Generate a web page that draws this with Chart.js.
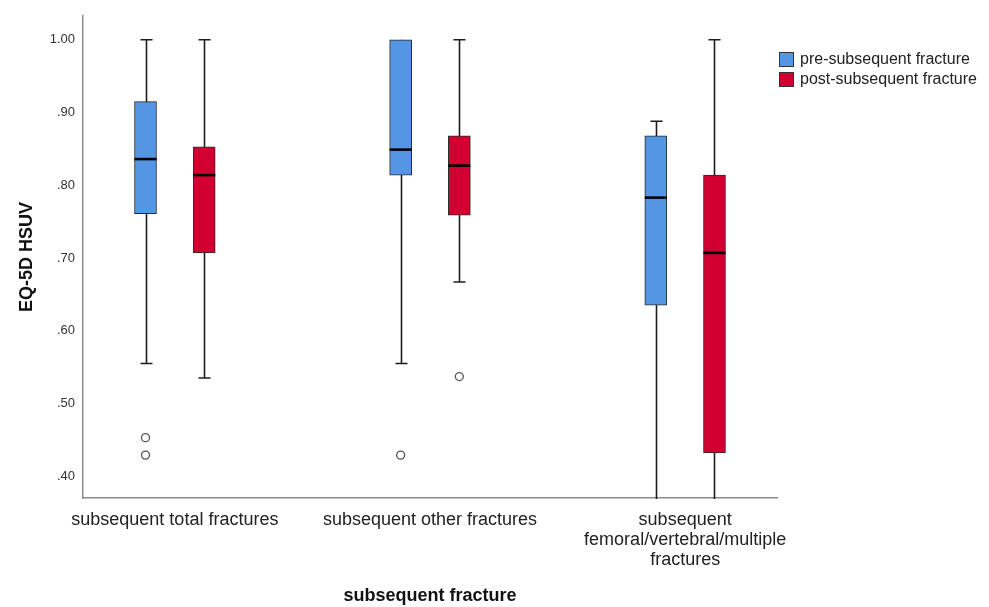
<!DOCTYPE html>
<html>
<head>
<meta charset="utf-8">
<script src="https://cdn.jsdelivr.net/npm/chart.js@4.4.1/dist/chart.umd.min.js"></script>
<style>
  html, body { margin: 0; padding: 0; background: #fff; }
  #wrap { width: 989px; height: 607px; }
</style>
</head>
<body>
<div id="wrap"><canvas id="boxChart" width="989" height="607"></canvas></div>
<script>
// categorías del eje X (la tercera va en tres líneas)
const categories = [
    'subsequent total fractures',
    'subsequent other fractures',
    ['subsequent', 'femoral/vertebral/multiple', 'fractures']
];
const seriesNames = ['pre-subsequent fracture', 'post-subsequent fracture'];
const yTicks = [0.40, 0.50, 0.60, 0.70, 0.80, 0.90, 1.00];

// estadísticos (pre)
const preMin = [0.555, 0.555, 0.30];
const preQ1 = [0.761, 0.814, 0.635];
const preMedian = [0.836, 0.849, 0.783];
const preQ3 = [0.915, 1.00, 0.868];
const preMax = [1.00, 1.00, 0.888];
const preOutliers = [[0.453, 0.429], [0.429], []];

// estadísticos (post)
const postMin = [0.535, 0.667, 0.30];
const postQ1 = [0.707, 0.759, 0.432];
const postMedian = [0.814, 0.827, 0.707];
const postQ3 = [0.853, 0.868, 0.814];
const postMax = [1.00, 1.00, 1.00];
const postOutliers = [[], [0.537], []];

const FONT = "'Liberation Sans', Arial, sans-serif";
const boxOffset = 0.115;   // desplazamiento de cada caja respecto al centro del grupo
const blue = '#5596e4';
const red = '#d20030';

function boxData(q1, q3, shift) {
    return q1.map((v, i) => ({ x: i + 1 + shift, y: [v, q3[i]] }));
}
function outlierData(list, shift) {
    const pts = [];
    list.forEach((vals, i) => vals.forEach(v => pts.push({ x: i + 1 + shift, y: v })));
    return pts;
}

// Plugin: bigotes debajo de las cajas, medianas encima, leyenda a la derecha
const boxPlotPlugin = {
    id: 'boxPlot',
    beforeDatasetsDraw(chart) {
        const { ctx, chartArea, scales: { x, y } } = chart;
        ctx.save();
        ctx.beginPath();
        ctx.rect(chartArea.left, chartArea.top, chartArea.width, chartArea.height + 1);
        ctx.clip();
        ctx.strokeStyle = '#1c1c1c';
        ctx.lineWidth = 1.6;
        chart.data.datasets.forEach(ds => {
            if (!ds.whiskerLow) return;
            ds.data.forEach((d, i) => {
                const cx = Math.round(x.getPixelForValue(d.x)) + 0.5;
                const lo = y.getPixelForValue(ds.whiskerLow[i]);
                const hi = y.getPixelForValue(ds.whiskerHigh[i]);
                ctx.beginPath();
                ctx.moveTo(cx, lo);
                ctx.lineTo(cx, hi);
                ctx.moveTo(cx - 6, lo);
                ctx.lineTo(cx + 6, lo);
                if (ds.whiskerHigh[i] > d.y[1]) {
                    ctx.moveTo(cx - 6, hi);
                    ctx.lineTo(cx + 6, hi);
                }
                ctx.stroke();
            });
        });
        ctx.restore();
    },
    afterDatasetsDraw(chart) {
        const { ctx, scales: { x, y } } = chart;
        ctx.save();
        ctx.strokeStyle = '#000';
        ctx.lineWidth = 2.6;
        chart.data.datasets.forEach(ds => {
            if (!ds.medians) return;
            ds.data.forEach((d, i) => {
                const cx = x.getPixelForValue(d.x);
                const my = y.getPixelForValue(ds.medians[i]);
                ctx.beginPath();
                ctx.moveTo(cx - 11, my);
                ctx.lineTo(cx + 11, my);
                ctx.stroke();
            });
        });
        ctx.restore();
    },
    afterDraw(chart) {
        const { ctx, chartArea } = chart;
        ctx.save();
        ctx.font = Chart.helpers.toFont({ family: FONT, size: 16 }).string;
        ctx.textBaseline = 'middle';
        ctx.textAlign = 'left';
        const bx = chartArea.right + 2;
        chart.data.datasets.filter(ds => ds.medians).forEach((ds, i) => {
            const by = 52 + i * 20;
            ctx.fillStyle = ds.backgroundColor;
            ctx.fillRect(bx, by, 15, 15);
            ctx.strokeStyle = '#333';
            ctx.lineWidth = 1;
            ctx.strokeRect(bx + 0.5, by + 0.5, 14, 14);
            ctx.fillStyle = '#222';
            ctx.fillText(ds.label, bx + 21, by + 8);
        });
        ctx.restore();
    }
};

const ctx = document.getElementById('boxChart').getContext('2d');
new Chart(ctx, {
    type: 'bar',
    data: {
        datasets: [
            {
                label: seriesNames[0],
                data: boxData(preQ1, preQ3, -boxOffset),
                medians: preMedian,
                whiskerLow: preMin,
                whiskerHigh: preMax,
                backgroundColor: blue,
                borderColor: '#2b2b2b',
                borderWidth: 1,
                borderSkipped: false,
                barThickness: 22,
                grouped: false,
                order: 2
            },
            {
                label: seriesNames[1],
                data: boxData(postQ1, postQ3, boxOffset),
                medians: postMedian,
                whiskerLow: postMin,
                whiskerHigh: postMax,
                backgroundColor: red,
                borderColor: '#2b2b2b',
                borderWidth: 1,
                borderSkipped: false,
                barThickness: 22,
                grouped: false,
                order: 2
            },
            {
                type: 'scatter',
                label: 'outliers',
                data: outlierData(preOutliers, -boxOffset).concat(outlierData(postOutliers, boxOffset)),
                pointStyle: 'circle',
                pointRadius: 4,
                backgroundColor: '#fff',
                borderColor: '#555',
                borderWidth: 1.3,
                order: 1
            }
        ]
    },
    options: {
        responsive: false,
        animation: false,
        layout: { padding: { top: 13, right: 212, bottom: 0, left: 0 } },
        plugins: {
            legend: { display: false },
            tooltip: { enabled: false }
        },
        scales: {
            x: {
                type: 'linear',
                offset: false,
                min: 0.64,
                max: 3.36,
                grid: { display: false, drawTicks: false },
                border: { display: true, color: '#8a8a8a', width: 1.5 },
                afterBuildTicks: scale => { scale.ticks = categories.map((c, i) => ({ value: i + 1 })); },
                afterFit: scale => { scale.height = 109; },
                ticks: {
                    autoSkip: false,
                    maxRotation: 0,
                    padding: 12,
                    color: '#222',
                    font: { family: FONT, size: 18, lineHeight: 1.12 },
                    callback: value => categories[value - 1]
                },
                title: {
                    display: true,
                    text: 'subsequent fracture',
                    color: '#111',
                    font: { family: FONT, size: 18, weight: 'bold' },
                    padding: { top: 0, bottom: 0 }
                }
            },
            y: {
                min: 0.37,
                max: 1.033,
                grid: { display: false, drawTicks: false },
                border: { display: true, color: '#8a8a8a', width: 1.5 },
                afterBuildTicks: scale => { scale.ticks = yTicks.map(v => ({ value: v })); },
                afterFit: scale => { scale.width = 83; },
                ticks: {
                    padding: 8,
                    color: '#333',
                    font: { family: FONT, size: 13 },
                    callback: value => value.toFixed(2).replace(/^0/, '')
                },
                title: {
                    display: true,
                    text: 'EQ-5D HSUV',
                    color: '#111',
                    font: { family: FONT, size: 18, weight: 'bold' },
                    padding: { top: 16, bottom: 0 }
                }
            }
        }
    },
    plugins: [boxPlotPlugin]
});
</script>
</body>
</html>
